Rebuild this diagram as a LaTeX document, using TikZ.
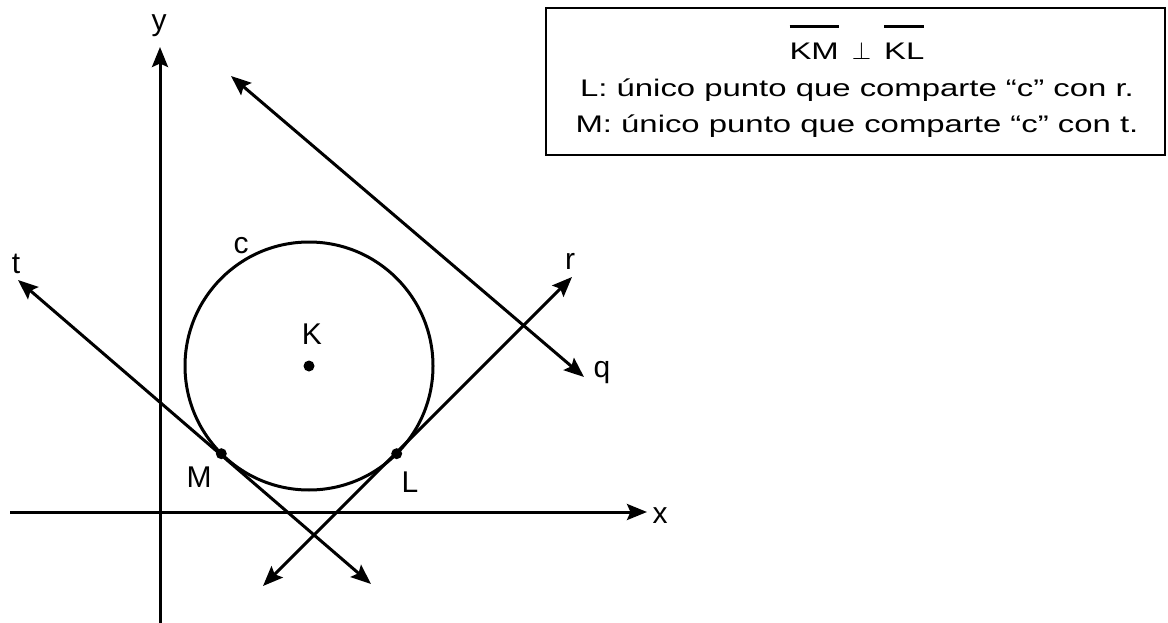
\documentclass[tikz,border=0pt]{standalone}
\usepackage{fontspec}
\setmainfont{Liberation Sans}
\newfontfamily\notefont[FakeStretch=1.37]{Liberation Sans}
\usetikzlibrary{positioning,arrows.meta}
\newcommand{\segbar}[1]{\vbox{\hrule height 2.5pt\kern 15.5pt\hbox{#1}}}
\tikzset{
  line-axis/.style={-{Stealth[length=20pt,width=16pt,inset=3.5pt]},line width=3pt},
  line-both/.style={{Stealth[length=20pt,width=16pt,inset=3.5pt]}-{Stealth[length=20pt,width=16pt,inset=3.5pt]},
    line width=3pt},
  node-label/.style={font=\fontsize{30}{36}\selectfont,inner sep=0pt,anchor=base},
  node-note/.style={font=\notefont\fontsize{24}{36}\selectfont,inner sep=0pt,anchor=base},
  node-dot/.style={circle,fill,inner sep=0pt,minimum size=11pt},
}

\begin{document}
\begin{tikzpicture}[x=1pt,y=-1pt]
  \useasboundingbox (0,0) rectangle (1168,623);
  % ejes
  \coordinate (x-start) at (10,512);
  \coordinate (x-end) at (647,512);
  \coordinate (y-start) at (160,623);
  \coordinate (y-end) at (160,47);
  \draw[line-axis] (x-start) -- (x-end);
  \draw[line-axis] (y-start) -- (y-end);
  \node[node-label] (lab-x) at (660,523) {x};
  \node[node-label] (lab-y) at (159,31) {y};
  % circunferencia c
  \node[node-dot] (K) at (309,366) {};
  \node[draw,circle,line width=3pt,inner sep=0pt,outer sep=0pt,
    minimum size=248pt] (circ) at (K) {};
  \node[node-dot] (M) at (circ.225) {};
  \node[node-dot] (L) at (circ.-45) {};
  \node[node-label] (lab-c) at (241,253) {c};
  \node[node-label] (lab-K) at (312,344) {K};
  \node[node-label] (lab-M) at (199,487) {M};
  \node[node-label] (lab-L) at (410,492) {L};
  % rectas t, r, q
  \coordinate (t-start) at (18,280);
  \coordinate (t-end) at (371,584);
  \coordinate (r-start) at (263,586);
  \coordinate (r-end) at (572,277);
  \coordinate (q-start) at (231,76);
  \coordinate (q-end) at (584,377);
  \draw[line-both] (t-start) -- (t-end);
  \draw[line-both] (r-start) -- (r-end);
  \draw[line-both] (q-start) -- (q-end);
  \node[node-label] (lab-t) at (16,273) {t};
  \node[node-label] (lab-r) at (570,269) {r};
  \node[node-label] (lab-q) at (602,377) {q};
  % recuadro
  \node[draw,line width=2.4pt,inner sep=0pt,outer sep=0pt,minimum width=619pt,
    minimum height=147pt] (note-box) at (855.5,81.5) {};
  \node[node-note] (note-1) at (857,60)
    {\segbar{KM}\hspace{13pt}{\fontsize{29}{36}\selectfont$\perp$}\hspace{13pt}\segbar{KL}};
  \node[node-note] (note-2) at (857,97) {L: único punto que comparte “c” con r.};
  \node[node-note] (note-3) at (857,133) {M: único punto que comparte “c” con t.};
\end{tikzpicture}
\end{document}
